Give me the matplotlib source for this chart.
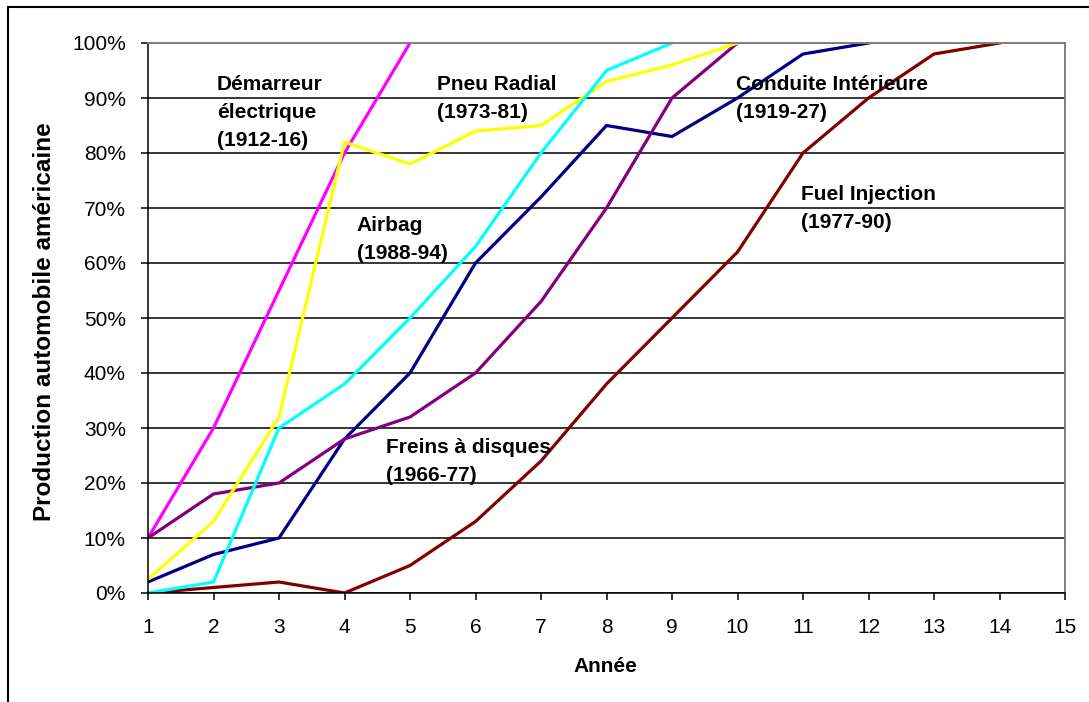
import matplotlib
matplotlib.use('Agg')
import matplotlib.pyplot as plt
from matplotlib.patches import Rectangle
from matplotlib.ticker import PercentFormatter

plt.rcParams['font.family'] = ['Liberation Sans', 'DejaVu Sans']

# Données : part de la production automobile américaine par année depuis l'introduction
years = list(range(1, 16))
demarreur = [0.10, 0.30, 0.55, 0.80, 1.00]
conduite = [0.02, 0.07, 0.10, 0.28, 0.40, 0.60, 0.72, 0.85, 0.83, 0.90, 0.98, 1.00]
freins = [0.10, 0.18, 0.20, 0.28, 0.32, 0.40, 0.53, 0.70, 0.90, 1.00]
pneu = [0.025, 0.13, 0.32, 0.82, 0.78, 0.84, 0.85, 0.93, 0.96, 1.00]
fuel = [0.00, 0.01, 0.02, 0.00, 0.05, 0.13, 0.24, 0.38, 0.50, 0.62, 0.80, 0.90, 0.98, 1.00]
airbag = [0.00, 0.02, 0.30, 0.38, 0.50, 0.63, 0.80, 0.95, 1.00]

series = [demarreur, conduite, freins, pneu, fuel, airbag]
colors = ['#FF00FF', '#000080', '#800080', '#FFFF00', '#800000', '#00FFFF']

labels = ['Démarreur\nélectrique\n(1912-16)', 'Conduite Intérieure\n(1919-27)',
          'Freins à disques\n(1966-77)', 'Pneu Radial\n(1973-81)',
          'Fuel Injection\n(1977-90)', 'Airbag\n(1988-94)']
# position (x, y) du coin haut-gauche de chaque étiquette
label_pos = [(2.05, 0.941), (9.97, 0.942), (4.63, 0.282),
             (5.41, 0.942), (10.97, 0.742), (4.19, 0.685)]


def main():
    fig = plt.figure(figsize=(10.89, 7.02), dpi=100)
    W, H = 1089, 702
    ax = fig.add_axes([148 / W, 1 - 593 / H, (1065 - 148) / W, (593 - 43) / H])

    for vals, c in zip(series, colors):
        ax.plot(years[:len(vals)], vals, color=c, linewidth=2.3, solid_joinstyle='miter')

    for txt, (x, y) in zip(labels, label_pos):
        ax.text(x, y, txt, fontsize=15, fontweight='bold', ha='left', va='top',
                linespacing=1.6, zorder=5)

    ax.set_xlim(1, 15)
    ax.set_ylim(0, 1)
    ax.set_xticks(years)
    ax.set_yticks([i / 10 for i in range(11)])
    ax.yaxis.set_major_formatter(PercentFormatter(1.0, decimals=0))
    ax.grid(axis='y', color='black', linewidth=1.1)
    ax.set_axisbelow(True)

    ax.tick_params(axis='both', labelsize=15, direction='out', length=5, width=1.1, color='black')
    ax.tick_params(axis='y', pad=11)
    ax.tick_params(axis='x', pad=13)

    for s in ['left', 'bottom']:
        ax.spines[s].set_color('black')
        ax.spines[s].set_linewidth(1.1)
    for s in ['top', 'right']:
        ax.spines[s].set_color('#808080')
        ax.spines[s].set_linewidth(1.4)

    fig.text(45 / W, 1 - 322 / H, 'Production automobile américaine', rotation=90,
             fontsize=17.5, fontweight='bold', ha='center', va='center')
    fig.text(605 / W, 1 - 667 / H, 'Année', fontsize=15, fontweight='bold',
             ha='center', va='center')

    # cadre extérieur du graphique (coupé à droite et en bas)
    fig.patches.append(Rectangle((8 / W, -0.1), 1.2, 1 - 7 / H + 0.1,
                                 transform=fig.transFigure, fill=False,
                                 edgecolor='black', linewidth=1.5))

    fig.savefig('out.png', dpi=100)


if __name__ == "__main__":
    main()
